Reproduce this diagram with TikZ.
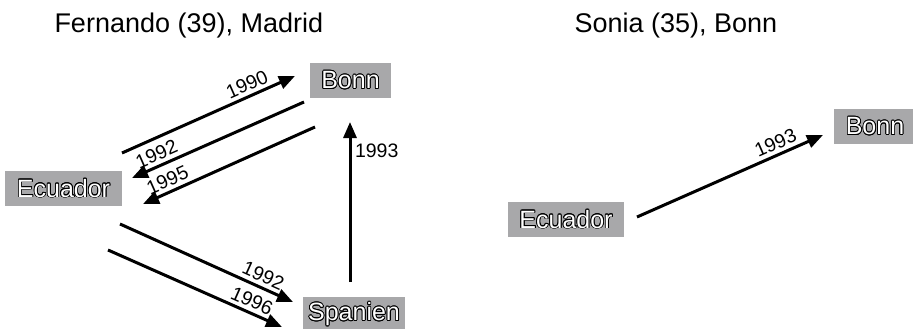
\documentclass[tikz,border=0pt]{standalone}
\usepackage{fontspec}
\setmainfont{Liberation Sans}
\usepackage{contour}
\contourlength{0.8pt}
\usepackage{tikz}
\usetikzlibrary{arrows.meta}
\definecolor{boxgray}{RGB}{168,168,170}
\newcommand{\townname}[1]{{\color{white}\contour{black}{#1}}}

\begin{document}
\begin{tikzpicture}[->,>={Triangle[length=16pt,width=13pt]},x=1pt,y=-1pt,
                    line width=3pt]
  \tikzstyle{town}=[fill=boxgray,minimum height=35pt,inner sep=0pt,
                    font=\fontsize{25}{30}\selectfont]
  \tikzstyle{year}=[font=\fontsize{19.5}{22}\selectfont,inner sep=3.5pt]
  \tikzstyle{title}=[anchor=base west,inner sep=0pt,
                     font=\fontsize{27}{32}\selectfont]

  \clip (0,0) rectangle (913,329);

  % Fernando
  \node[title] (fernando) at (53,33) {Fernando (39), Madrid};
  \node[town,minimum width=81pt]  (bonnF)    at (350.5,80.5)  {\townname{Bonn}};
  \node[town,minimum width=117pt] (ecuadorF) at (63.5,188.5)  {\townname{Ecuador}};
  \node[town,minimum width=102pt] (spanien)  at (354,314.5)   {\townname{Spanien}};

  \coordinate (eb1) at (122,153); \coordinate (eb2) at (295,76);
  \coordinate (be1) at (304,102); \coordinate (be2) at (132,178);
  \coordinate (be3) at (315,127); \coordinate (be4) at (143,204);
  \coordinate (es1) at (120,224); \coordinate (es2) at (293,302);
  \coordinate (es3) at (108,250); \coordinate (es4) at (282,327);
  \coordinate (sb1) at (350,282); \coordinate (sb2) at (350,122);

  \path (eb1) edge node[year,sloped,above,pos=0.75] {1990} (eb2)
        (be1) edge node[year,sloped,above,pos=0.83] {1992} (be2)
        (be3) edge node[year,sloped,above,pos=0.83] {1995} (be4)
        (es1) edge node[year,sloped,above,pos=0.8]  {1992} (es2)
        (es3) edge node[year,sloped,above,pos=0.8]  {1996} (es4)
        (sb1) edge node[year,right,pos=0.82]        {1993} (sb2);

  % Sonia
  \node[title] (sonia) at (573,33) {Sonia (35), Bonn};
  \node[town,minimum width=116pt] (ecuadorS) at (566,219.5)   {\townname{Ecuador}};
  \node[town,minimum width=82pt]  (bonnS)    at (875,126.5)   {\townname{Bonn}};

  \coordinate (eb3) at (637,217); \coordinate (eb4) at (823,135);

  \path (eb3) edge node[year,sloped,above,pos=0.77] {1993} (eb4);
\end{tikzpicture}
\end{document}
